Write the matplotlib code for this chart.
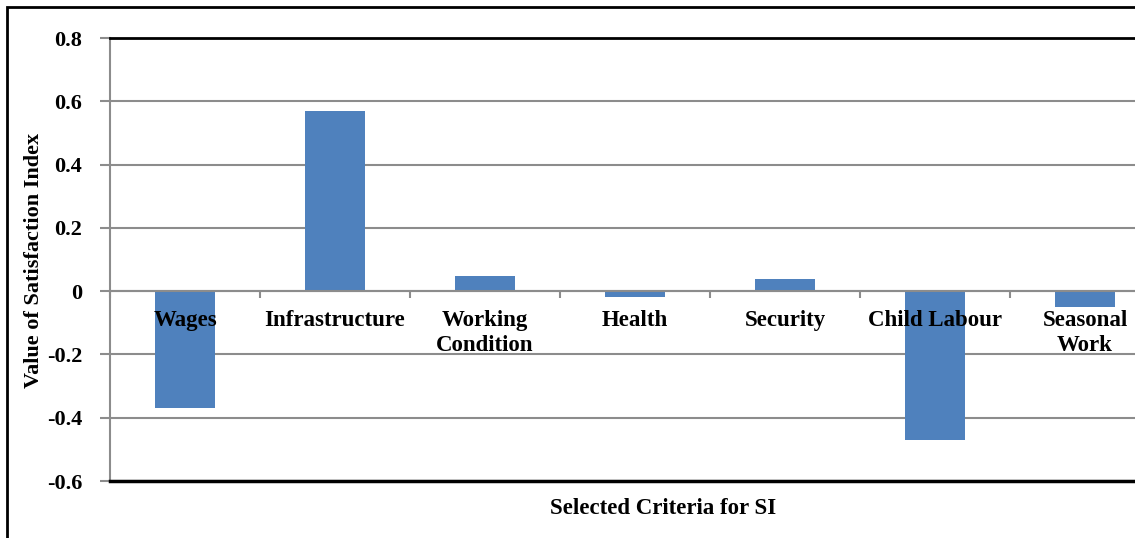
import numpy as np
import matplotlib
matplotlib.use("Agg")
import matplotlib.pyplot as plt
from matplotlib.patches import Rectangle

categories = ["Wages", "Infrastructure", "Working\nCondition", "Health",
              "Security", "Child Labour", "Seasonal\nWork"]
si_values = [-0.37, 0.57, 0.047, -0.02, 0.037, -0.47, -0.05]
y_ticks = [-0.6, -0.4, -0.2, 0, 0.2, 0.4, 0.6, 0.8]
y_ticklabels = ["-0.6", "-0.4", "-0.2", "0", "0.2", "0.4", "0.6", "0.8"]

W, H = 1135, 538
plt.rcParams["font.family"] = ["Liberation Serif", "DejaVu Serif"]
plt.rcParams["font.weight"] = "bold"

fig = plt.figure(figsize=(W / 100, H / 100), dpi=100)
# plot area runs past the right edge of the picture, as in the source
ax = fig.add_axes([110 / W, 1 - 481 / H, 1050 / W, (481 - 38) / H])

x = np.arange(len(categories))
ax.bar(x, si_values, width=0.4, color="#4F81BD", zorder=3)

ax.set_xlim(-0.5, len(categories) - 0.5)
ax.set_ylim(-0.6, 0.8)
ax.set_yticks(y_ticks)
ax.set_yticklabels(y_ticklabels, fontsize=16, fontweight="bold")
ax.yaxis.grid(True, color="#8c8c8c", lw=1.5, zorder=1)
ax.tick_params(axis="y", color="#8c8c8c", length=7, width=1.5, pad=13)

# category axis drawn at zero, ticks between categories
ax.spines["bottom"].set_position(("data", 0))
ax.spines["bottom"].set_color("#8c8c8c")
ax.spines["bottom"].set_linewidth(1.5)
ax.spines["bottom"].set_zorder(4)
ax.set_xticks(np.arange(len(categories) + 1) - 0.5)
ax.set_xticklabels([])
ax.tick_params(axis="x", color="#8c8c8c", length=5, width=1.5, direction="out")
ax.spines["left"].set_color("#8c8c8c")
ax.spines["left"].set_linewidth(1.5)
ax.spines["top"].set_color("black")
ax.spines["top"].set_linewidth(2)
ax.spines["right"].set_visible(False)
ax.axhline(-0.6, color="black", lw=2.5, zorder=5, clip_on=False)

for xi, lab in zip(x, categories):
    ax.annotate(lab, xy=(xi, 0), xytext=(0, -19), textcoords="offset pixels",
                ha="center", va="top", fontsize=16.5, fontweight="bold",
                linespacing=1.25, zorder=6)

fig.text(34 / W, 1 - 260 / H, "Value of Satisfaction Index", rotation=90,
         ha="center", va="center", fontsize=16, fontweight="bold")
fig.text(663 / W, 1 - 508 / H, "Selected Criteria for SI",
         ha="center", va="center", fontsize=16.5, fontweight="bold")

fig.patches.append(Rectangle((7 / W, -0.1), 1.2, 1 - 7 / H + 0.1,
                             transform=fig.transFigure, fill=False,
                             edgecolor="black", lw=2))

fig.savefig("out.png", dpi=100)
